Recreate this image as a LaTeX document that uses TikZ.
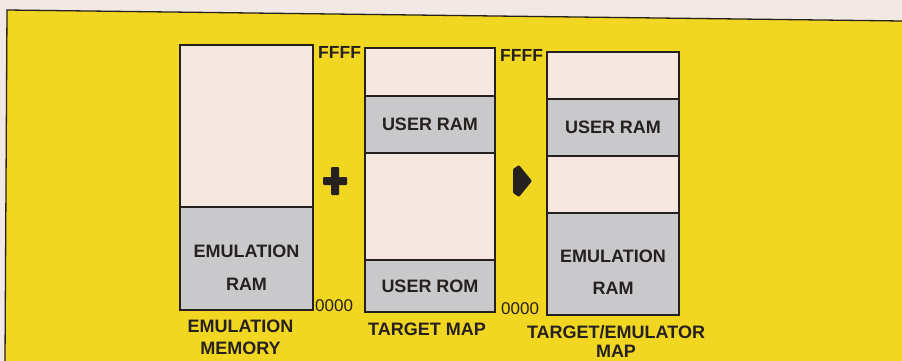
\documentclass[tikz,border=0pt]{standalone}
\usepackage{fontspec}
\setmainfont{Liberation Sans}
\usepackage{xcolor}
\usetikzlibrary{positioning,calc}
\definecolor{paper}{RGB}{242,233,229}
\definecolor{board}{RGB}{241,214,34}
\definecolor{pale}{RGB}{246,231,224}
\definecolor{cellgray}{RGB}{201,201,203}
\definecolor{ink}{RGB}{38,33,30}

\begin{document}
\begin{tikzpicture}[x=1pt,y=-1pt,
  seg/.style={draw=ink,line width=1.6pt,inner sep=0pt,outer sep=0pt,anchor=north west},
  pale/.style={seg,fill=pale},
  grey/.style={seg,fill=cellgray},
  lbl/.style={font=\fontsize{18}{33}\selectfont\bfseries,text=ink,align=center,inner sep=0pt},
  addrhi/.style={font=\fontsize{17.5}{20}\selectfont\bfseries,text=ink,inner sep=0pt,anchor=west},
  addrlo/.style={font=\fontsize{17}{20}\selectfont,text=ink,inner sep=0pt,anchor=west},
  captxt/.style={font=\fontsize{18}{21}\selectfont\bfseries,text=ink,align=center,inner sep=0pt,anchor=north}]
  \useasboundingbox (0,0) rectangle (902,361);
  % Background and frame
  \fill[paper] (0,0) rectangle (902,361);
  \fill[board] (7,10) -- (902,21) -- (902,361) -- (5,361) -- cycle;
  \draw[ink,line width=1.3pt] (5,361) -- (7,10) -- (902,21);
  % Emulation memory
  \node[pale,minimum width=133pt,minimum height=162pt] (mem1a) at (180,45) {};
  \node[grey,minimum width=133pt,minimum height=103pt,below=0pt of mem1a] (mem1b) {};
  \node[lbl] (mem1t) at ([yshift=-9pt]mem1b.center) {EMULATION\\RAM};
  \node[captxt,font=\fontsize{18}{22}\selectfont\bfseries] (cap1) at ([xshift=-6pt,yshift=-10pt]mem1b.south) {EMULATION\\MEMORY};
  \node[addrhi] (hi1) at ([xshift=5pt,yshift=-7pt]mem1a.north east) {FFFF};
  \node[addrlo] (lo1) at ([xshift=2pt,yshift=4pt]mem1b.south east) {0000};
  % Target map
  \node[pale,minimum width=130pt,minimum height=48pt] (map2a) at (365,48) {};
  \node[grey,minimum width=130pt,minimum height=57pt,below=0pt of map2a] (map2b) {};
  \node[pale,minimum width=130pt,minimum height=107pt,below=0pt of map2b] (map2c) {};
  \node[grey,minimum width=130pt,minimum height=52pt,below=0pt of map2c] (map2d) {};
  \node[lbl] (map2bt) at (map2b.center) {USER RAM};
  \node[lbl] (map2dt) at (map2d.center) {USER ROM};
  \node[captxt] (cap2) at ([xshift=-3pt,yshift=-11pt]map2d.south) {TARGET MAP};
  \node[addrhi] (hi2) at ([xshift=5pt,yshift=-7pt]map2a.north east) {FFFF};
  \node[addrlo] (lo2) at ([xshift=6pt,yshift=3pt]map2d.south east) {0000};
  % Target/emulator map
  \node[pale,minimum width=132pt,minimum height=47pt] (map3a) at (547,52) {};
  \node[grey,minimum width=132pt,minimum height=57pt,below=0pt of map3a] (map3b) {};
  \node[pale,minimum width=132pt,minimum height=57pt,below=0pt of map3b] (map3c) {};
  \node[grey,minimum width=132pt,minimum height=102pt,below=0pt of map3c] (map3d) {};
  \node[lbl] (map3bt) at (map3b.center) {USER RAM};
  \node[lbl,font=\fontsize{18}{32}\selectfont\bfseries] (map3dt) at ([yshift=-8pt]map3d.center) {EMULATION\\RAM};
  \node[captxt,font=\fontsize{18}{19}\selectfont\bfseries] (cap3) at ([xshift=3pt,yshift=-10pt]map3d.south) {TARGET/EMULATOR\\MAP};
  % Plus and arrow
  \fill[ink,rounded corners=1pt] (323,177) rectangle (347,185);
  \fill[ink,rounded corners=1pt] (331,167) rectangle (339,195);
  \fill[ink,rounded corners=1pt] (513,169) -- (519,165) -- (532,181) -- (519,197) -- (513,193) -- cycle;
\end{tikzpicture}
\end{document}
